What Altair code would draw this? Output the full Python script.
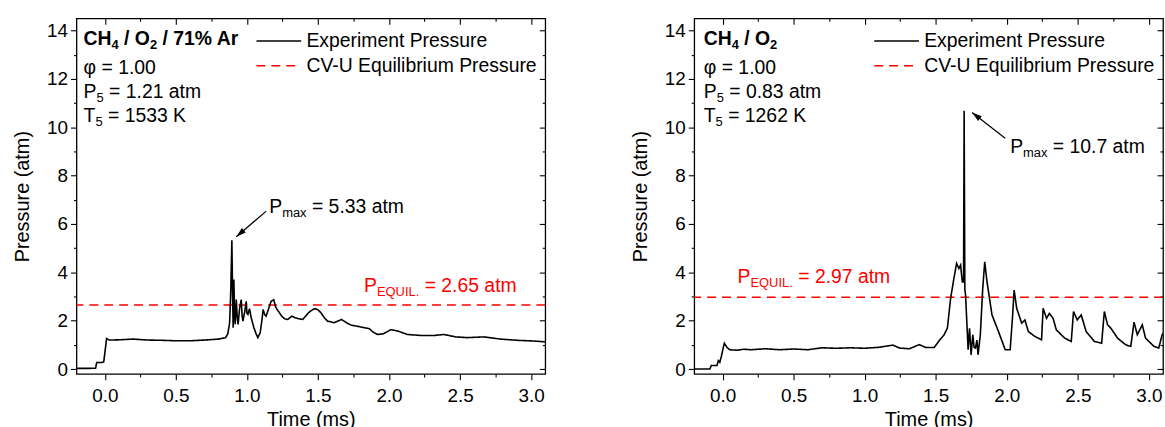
import math
import altair as alt
import pandas as pd

FONT = "Liberation Sans"

# ---------------- data ----------------
left_time = [-0.20, -0.10, -0.065, -0.058, -0.02, -0.008, 0.012, 0.03, 0.10, 0.20, 0.30, 0.40,
             0.50, 0.60, 0.70, 0.80, 0.85, 0.865, 0.878, 0.886, 0.894, 0.899, 0.903, 0.908,
             0.913, 0.917, 0.925, 0.932, 0.938, 0.948, 0.960, 0.966, 0.972, 0.985, 0.995,
             1.000, 1.007, 1.018, 1.030, 1.049, 1.065, 1.077, 1.093, 1.105, 1.114, 1.125,
             1.135, 1.150, 1.170, 1.189, 1.200, 1.213, 1.245, 1.265, 1.287, 1.316, 1.340,
             1.358, 1.393, 1.433, 1.460, 1.479, 1.500, 1.521, 1.545, 1.568, 1.615, 1.666,
             1.700, 1.732, 1.802, 1.861, 1.890, 1.919, 1.961, 2.013, 2.064, 2.130, 2.223,
             2.317, 2.387, 2.469, 2.551, 2.668, 2.785, 2.902, 3.019, 3.113]
left_pressure = [0.03, 0.03, 0.04, 0.27, 0.27, 0.30, 1.26, 1.20, 1.21, 1.24, 1.20, 1.19,
                 1.17, 1.17, 1.20, 1.24, 1.30, 1.45, 1.90, 3.20, 5.33, 3.00, 1.71, 3.70,
                 2.30, 1.85, 2.87, 2.10, 1.85, 2.50, 2.87, 2.20, 1.98, 2.40, 2.80,
                 2.30, 2.26, 2.50, 2.12, 1.71, 1.45, 1.30, 1.50, 2.00, 2.46, 2.25,
                 2.19, 2.45, 2.80, 2.87, 2.60, 2.46, 2.19, 2.08, 2.05, 2.19, 2.12,
                 2.09, 2.05, 2.33, 2.45, 2.50, 2.45, 2.33, 2.12, 1.98, 1.92, 2.05,
                 1.92, 1.82, 1.74, 1.67, 1.52, 1.43, 1.46, 1.63, 1.57, 1.43, 1.39,
                 1.39, 1.43, 1.33, 1.30, 1.33, 1.24, 1.19, 1.16, 1.12]

right_time = [-0.20, -0.09, -0.08, -0.04, -0.03, -0.02, -0.01, 0.005, 0.012, 0.03, 0.05, 0.10,
              0.15, 0.20, 0.30, 0.40, 0.50, 0.60, 0.70, 0.80, 0.90, 1.00, 1.10, 1.198,
              1.245, 1.314, 1.384, 1.431, 1.489, 1.524, 1.559, 1.582, 1.605, 1.628, 1.647,
              1.663, 1.675, 1.687, 1.696, 1.700, 1.705, 1.710, 1.721, 1.728, 1.738, 1.749,
              1.761, 1.770, 1.780, 1.790, 1.798, 1.814, 1.831, 1.845, 1.861, 1.896, 1.942,
              1.989, 2.024, 2.040, 2.052, 2.070, 2.105, 2.128, 2.152, 2.198, 2.245, 2.256,
              2.280, 2.300, 2.326, 2.349, 2.408, 2.454, 2.470, 2.496, 2.524, 2.559, 2.617,
              2.668, 2.687, 2.710, 2.733, 2.780, 2.838, 2.873, 2.896, 2.919, 2.954, 2.977,
              3.036, 3.070, 3.094, 3.120]
right_pressure = [0.00, 0.00, 0.15, 0.15, 0.35, 0.28, 0.50, 0.90, 1.07, 0.90, 0.80, 0.78,
                  0.82, 0.80, 0.84, 0.80, 0.83, 0.80, 0.88, 0.86, 0.88, 0.86, 0.90, 0.99,
                  0.87, 0.84, 1.01, 0.89, 0.89, 1.17, 1.42, 1.69, 2.93, 3.75, 4.37,
                  4.16, 4.30, 3.61, 3.60, 10.68, 3.30, 3.06, 1.69, 0.80, 1.69, 0.59,
                  1.42, 0.90, 0.87, 1.20, 0.59, 1.42, 3.34, 4.43, 3.61, 2.24, 1.55,
                  0.80, 0.80, 2.10, 3.27, 2.51, 1.90, 2.03, 1.55, 1.35, 1.21, 2.51,
                  2.10, 2.30, 2.10, 1.62, 1.28, 1.14, 2.38, 2.03, 2.24, 1.55, 1.14,
                  1.07, 2.38, 1.83, 1.69, 1.28, 1.00, 0.94, 1.94, 1.42, 1.83, 1.28,
                  0.94, 0.87, 1.42, 1.60]

series_names = ["Experiment Pressure", "CV-U Equilibrium Pressure"]
series_colors = ["#000000", "#ff0000"]
series_dashes = [[1, 0], [9, 6]]
equil_pressure = [2.65, 2.97]

# info blocks: (text, is_subscript)
left_info = [
    [("CH", 0), ("4", 1), (" / O", 0), ("2", 1), (" / 71% Ar", 0)],
    [("φ = 1.00", 0)],
    [("P", 0), ("5", 1), (" = 1.21 atm", 0)],
    [("T", 0), ("5", 1), (" = 1533 K", 0)],
]
right_info = [
    [("CH", 0), ("4", 1), (" / O", 0), ("2", 1)],
    [("φ = 1.00", 0)],
    [("P", 0), ("5", 1), (" = 0.83 atm", 0)],
    [("T", 0), ("5", 1), (" = 1262 K", 0)],
]
info_anchor_t = [-0.150, -0.133]
info_baselines = [[13.39, 12.18, 11.19, 10.20], [13.40, 12.19, 11.20, 10.20]]

pmax_text = [
    [("P", 0), ("max", 1), (" = 5.33 atm", 0)],
    [("P", 0), ("max", 1), (" = 10.7 atm", 0)],
]
pmax_anchor = [(1.157, 6.47), (2.024, 8.93)]
arrows = [((1.136, 6.53), (0.925, 5.47)), ((1.989, 9.54), (1.756, 10.61))]

equil_text = [
    [("P", 0), ("EQUIL.", 1), (" = 2.65 atm", 0)],
    [("P", 0), ("EQUIL.", 1), (" = 2.97 atm", 0)],
]
equil_anchor = [(1.824, 3.17), (0.105, 3.54)]

x_major = [0.0, 0.5, 1.0, 1.5, 2.0, 2.5, 3.0]
x_minor = [0.25, 0.75, 1.25, 1.75, 2.25, 2.75]
y_major = [0, 2, 4, 6, 8, 10, 12, 14]
y_minor = [1, 3, 5, 7, 9, 11, 13]

# ---------------- layout ----------------
X_DOMAIN = [-0.2, 3.1]
Y_DOMAIN = [-0.2, 14.5]
W, H = 472, 358
MAIN, SUB = 19.5, 13
SUB_DY = 4

XS = alt.Scale(domain=X_DOMAIN, nice=False, zero=False)
YS = alt.Scale(domain=Y_DOMAIN, nice=False, zero=False)

REG = {' ': 278, '%': 889, '(': 333, ')': 333, '-': 333, '.': 278, '/': 278, '=': 584,
       'A': 667, 'C': 722, 'E': 667, 'I': 278, 'K': 667, 'L': 556, 'O': 778, 'P': 667,
       'Q': 778, 'T': 611, 'U': 722, 'V': 667, 'a': 556, 'b': 556, 'e': 556, 'i': 222,
       'l': 222, 'm': 833, 'q': 556, 'r': 333, 's': 500, 't': 278, 'u': 556, 'x': 500,
       'φ': 650}
BOLD = {' ': 278, '%': 889, '/': 278, 'A': 722, 'C': 722, 'H': 722, 'O': 778, 'r': 389}


def text_width(s, size, bold):
    table = BOLD if bold else REG
    return sum((556 if ch.isdigit() else table.get(ch, 600)) for ch in s) * size / 1000.0


def rich_text(t0, p0, segs, bold=False, color="black"):
    layers = []
    dx = 0.0
    for s, sub in segs:
        size = SUB if sub else MAIN
        lead = len(s) - len(s.lstrip(" "))
        dx += text_width(" " * lead, size, bold)
        s2 = s.lstrip(" ")
        df = pd.DataFrame({"t": [t0], "P": [p0], "label": [s2]})
        layers.append(
            alt.Chart(df).mark_text(
                align="left", baseline="alphabetic", dx=dx, dy=SUB_DY if sub else 0,
                font=FONT, fontSize=size, fontWeight="bold" if bold else "normal", color=color
            ).encode(
                x=alt.X("t:Q", scale=XS, axis=None),
                y=alt.Y("P:Q", scale=YS, axis=None),
                text="label:N",
            )
        )
        dx += text_width(s2, size, bold)
    return layers


def axis_layer(xaxis, yaxis):
    df = pd.DataFrame({"t": [X_DOMAIN[0]], "P": [Y_DOMAIN[0]]})
    return alt.Chart(df).mark_point(opacity=0).encode(
        x=alt.X("t:Q", scale=XS, axis=xaxis),
        y=alt.Y("P:Q", scale=YS, axis=yaxis),
    )


LEG = alt.Legend(
    orient="none", legendX=194, legendY=13, title=None, symbolType="M-4.5,0L4.5,0",
    symbolSize=100, symbolStrokeWidth=1.5, labelFont=FONT, labelFontSize=MAIN,
    labelColor="black", labelOffset=18, rowPadding=4, padding=0, labelLimit=500,
)


def panel(i, times, pressures):
    axes = [
        axis_layer(
            alt.Axis(orient="bottom", values=x_major, format=".1f", tickSize=6, labelPadding=7,
                     title="Time (ms)", titlePadding=4),
            alt.Axis(orient="left", values=y_major, format="d", tickSize=6, labelPadding=3,
                     title="Pressure (atm)", titlePadding=14),
        ),
        axis_layer(
            alt.Axis(orient="bottom", values=x_minor, tickSize=3, labels=False, title=None),
            alt.Axis(orient="left", values=y_minor, tickSize=3, labels=False, title=None),
        ),
        axis_layer(
            alt.Axis(orient="bottom", offset=-H, values=x_major, tickSize=6, labels=False, title=None),
            alt.Axis(orient="left", offset=-W, values=y_major, tickSize=6, labels=False, title=None),
        ),
        axis_layer(
            alt.Axis(orient="bottom", offset=-H, values=x_minor, tickSize=3, labels=False, title=None),
            alt.Axis(orient="left", offset=-W, values=y_minor, tickSize=3, labels=False, title=None),
        ),
    ]
    color = alt.Color("series:N", scale=alt.Scale(domain=series_names, range=series_colors), legend=LEG)
    dash = alt.StrokeDash("series:N", scale=alt.Scale(domain=series_names, range=series_dashes), legend=LEG)

    line_df = pd.DataFrame({"t": times, "P": pressures, "series": series_names[0]})
    eq_df = pd.DataFrame({"P": [equil_pressure[i]], "series": [series_names[1]]})

    eq_rule = alt.Chart(eq_df).mark_rule(strokeWidth=1.6).encode(
        y=alt.Y("P:Q", scale=YS, axis=None), color=color, strokeDash=dash
    )
    line = alt.Chart(line_df).mark_line(strokeWidth=1.6, clip=True, interpolate="linear").encode(
        x=alt.X("t:Q", scale=XS, axis=None),
        y=alt.Y("P:Q", scale=YS, axis=None),
        color=color, strokeDash=dash, order="t:Q",
    )

    (t1, p1), (t2, p2) = arrows[i]
    arrow_df = pd.DataFrame({"t": [t1], "P": [p1], "t2": [t2], "P2": [p2]})
    arrow_line = alt.Chart(arrow_df).mark_rule(color="black", strokeWidth=1.2).encode(
        x=alt.X("t:Q", scale=XS, axis=None), y=alt.Y("P:Q", scale=YS, axis=None),
        x2="t2:Q", y2="P2:Q",
    )
    px_t = W / (X_DOMAIN[1] - X_DOMAIN[0])
    px_p = H / (Y_DOMAIN[1] - Y_DOMAIN[0])
    dxp = (t2 - t1) * px_t
    dyp = -(p2 - p1) * px_p
    ang = math.degrees(math.atan2(dxp, -dyp)) % 360
    head_df = pd.DataFrame({"t": [t2], "P": [p2]})
    head = alt.Chart(head_df).mark_point(
        shape="M0,0L0.6,2L-0.6,2Z", filled=True, size=100, angle=ang, color="black", opacity=1
    ).encode(x=alt.X("t:Q", scale=XS, axis=None), y=alt.Y("P:Q", scale=YS, axis=None))

    texts = []
    info = left_info if i == 0 else right_info
    for k, segs in enumerate(info):
        texts += rich_text(info_anchor_t[i], info_baselines[i][k], segs, bold=(k == 0))
    texts += rich_text(pmax_anchor[i][0], pmax_anchor[i][1], pmax_text[i])
    texts += rich_text(equil_anchor[i][0], equil_anchor[i][1], equil_text[i], color="#ff0000")

    return alt.layer(*axes, eq_rule, line, arrow_line, head, *texts).resolve_axis(
        x="independent", y="independent"
    ).properties(width=W, height=H)


left = panel(0, left_time, left_pressure)
right = panel(1, right_time, right_pressure)

chart = alt.hconcat(left, right, spacing=83).resolve_scale(
    color="independent", strokeDash="independent"
).properties(
    padding={"left": 12, "top": 15, "right": 0, "bottom": 0},
    background="white",
).configure_view(
    stroke="#000000", strokeWidth=1.3
).configure_axis(
    domain=False, grid=False, tickColor="black", tickWidth=1.1, labelFont=FONT,
    labelFontSize=19, labelColor="black", titleFont=FONT, titleFontSize=20,
    titleFontWeight="normal", titleColor="black", labelFlush=False, labelOverlap=False,
)

chart.save("out.html", embed_options={"renderer": "svg", "actions": False})
